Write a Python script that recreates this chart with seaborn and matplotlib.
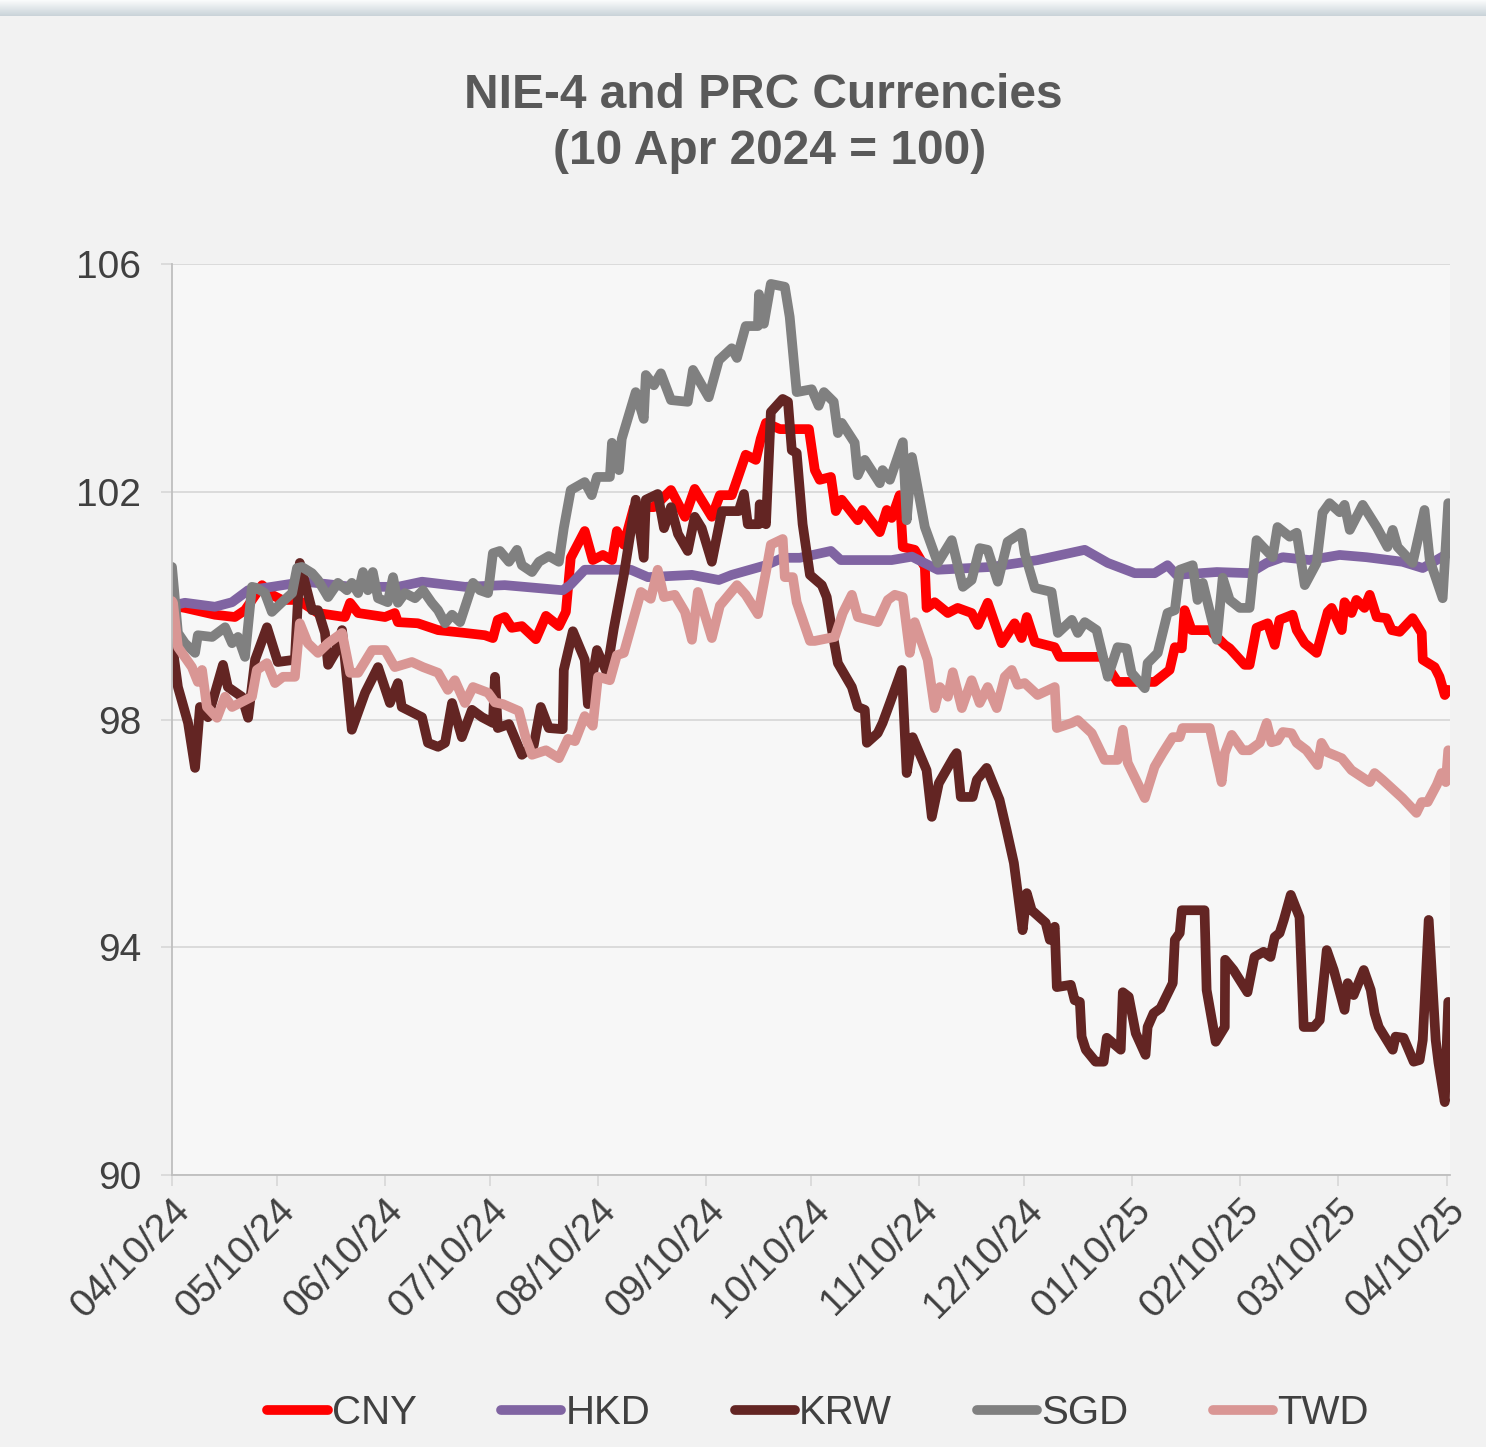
import matplotlib
matplotlib.use("Agg")
import matplotlib.dates as mdates
import matplotlib.pyplot as plt
import numpy as np
import pandas as pd
import seaborn as sns
from matplotlib.lines import Line2D

# Index values (10 Apr 2024 = 100); x given as days after 10 Apr 2024
cny_days = [0, 3.7, 12.3, 18.0, 20.9, 25.8, 28.6, 31.5, 36.1, 41.8, 49.5, 51.0, 53.3, 61.0, 63.8, 64.7,
            70.4, 76.2, 83.9, 89.6, 91.9, 93.3, 95.3, 97.3, 100.2, 104.2, 107.1, 110.8, 112.8, 114.2,
            118.2, 120.5, 123.4, 126.0, 127.4, 129.4, 132.3, 138.0, 142.9, 146.9, 149.7, 154.6, 156.9,
            160.3, 164.3, 167.2, 168.6, 170.1, 174.1, 182.4, 184.1, 185.5, 188.7, 190.1, 191.8, 196.4,
            197.8, 202.7, 204.7, 206.1, 208.4, 209.3, 212.7, 215.6, 216.1, 218.4, 222.2, 225.0, 229.0,
            230.8, 233.6, 237.6, 241.3, 243.3, 244.8, 247.1, 252.8, 254.2, 266.3, 268.0, 270.8, 281.4,
            285.7, 287.2, 289.2, 290.0, 292.0, 297.2, 301.5, 302.9, 307.2, 308.6, 310.6, 313.8, 315.8,
            317.2, 320.9, 322.1, 324.4, 327.8, 331.0, 332.1, 335.0, 335.8, 337.8, 339.2, 341.5, 343.0,
            345.0, 347.8, 349.3, 351.6, 355.3, 357.9, 358.2, 361.6, 363.0, 364.5, 365.5]
cny_vals = [100.0, 99.96, 99.84, 99.80, 99.92, 100.36, 100.19, 100.10, 100.10, 99.87, 99.80, 100.05,
            99.87, 99.80, 99.87, 99.71, 99.69, 99.57, 99.52, 99.48, 99.43, 99.75, 99.80, 99.61, 99.64,
            99.41, 99.82, 99.64, 99.89, 100.84, 101.31, 100.80, 100.89, 100.80, 101.31, 101.07, 101.73,
            101.73, 102.03, 101.56, 102.05, 101.56, 101.94, 101.94, 102.65, 102.56, 102.93, 103.21,
            103.10, 103.10, 102.38, 102.21, 102.26, 101.66, 101.86, 101.50, 101.68, 101.29, 101.68,
            101.54, 101.94, 101.03, 100.98, 100.68, 99.96, 100.06, 99.87, 99.96, 99.87, 99.66, 100.05,
            99.34, 99.69, 99.43, 99.80, 99.36, 99.27, 99.10, 99.10, 98.92, 98.66, 98.66, 98.87, 99.27,
            99.25, 99.92, 99.57, 99.57, 99.31, 99.25, 98.96, 98.96, 99.61, 99.69, 99.31, 99.75, 99.84,
            99.57, 99.34, 99.17, 99.89, 99.96, 99.57, 100.06, 99.87, 100.10, 99.96, 100.19, 99.80,
            99.78, 99.57, 99.54, 99.78, 99.52, 99.05, 98.92, 98.75, 98.43, 98.52]

hkd_days = [0, 3.7, 12.3, 17.2, 21.8, 28.6, 38.1, 51.5, 64.7, 71.6, 83.9, 95.3, 111.9, 114.0, 118.2,
            126.5, 131.4, 136.3, 148.9, 156.6, 160.3, 170.1, 174.9, 179.8, 188.7, 191.5, 206.1, 211.9,
            219.3, 234.8, 247.9, 261.4, 268.0, 275.7, 281.4, 285.1, 287.7, 299.2, 308.6, 313.5, 318.1,
            325.8, 334.4, 342.1, 352.4, 358.2, 365.5]
hkd_vals = [100.0, 100.05, 99.98, 100.06, 100.27, 100.33, 100.42, 100.33, 100.33, 100.42, 100.33,
            100.36, 100.27, 100.36, 100.63, 100.63, 100.63, 100.50, 100.54, 100.45, 100.54, 100.71,
            100.84, 100.84, 100.96, 100.80, 100.80, 100.86, 100.63, 100.68, 100.80, 100.98, 100.75,
            100.57, 100.57, 100.71, 100.54, 100.59, 100.57, 100.75, 100.85, 100.80, 100.89, 100.85,
            100.77, 100.66, 100.92]

krw_days = [0, 1.7, 4.6, 6.6, 8.0, 10.3, 14.6, 16.0, 20.0, 21.8, 23.8, 27.2, 30.3, 35.2, 36.6, 38.1,
            40.1, 41.8, 43.8, 44.7, 46.7, 48.7, 51.5, 55.3, 59.0, 62.4, 64.7, 65.8, 71.6, 73.3, 76.2,
            78.2, 80.2, 83.0, 85.9, 88.8, 91.9, 92.5, 93.3, 96.5, 100.2, 103.6, 105.6, 107.9, 111.9,
            112.2, 114.8, 118.2, 119.1, 121.7, 124.5, 126.5, 129.4, 132.8, 135.1, 135.7, 139.1, 140.9,
            142.9, 144.9, 147.7, 149.7, 151.7, 154.6, 157.5, 162.3, 163.8, 164.9, 168.1, 168.3, 170.1,
            171.5, 174.9, 176.4, 177.5, 178.9, 180.6, 182.7, 186.1, 187.5, 189.0, 190.7, 194.7, 196.4,
            198.4, 199.0, 202.1, 203.5, 205.6, 209.0, 210.4, 212.1, 216.1, 217.6, 219.6, 223.9, 224.7,
            225.9, 229.3, 230.5, 233.3, 237.0, 239.0, 241.1, 243.6, 244.8, 246.2, 250.2, 251.4, 252.8,
            253.4, 257.4, 258.5, 260.0, 260.5, 261.7, 264.5, 266.8, 267.7, 271.7, 272.3, 274.0, 276.0,
            278.8, 279.4, 281.1, 283.1, 286.6, 287.2, 288.6, 289.2, 295.7, 296.3, 298.9, 301.5, 301.6,
            304.0, 308.0, 310.0, 312.6, 314.6, 315.8, 317.2, 318.4, 320.4, 322.9, 324.1, 327.0, 328.7,
            330.7, 332.7, 335.8, 336.7, 338.4, 341.3, 343.3, 344.4, 345.6, 349.6, 350.4, 352.7, 355.6,
            357.3, 358.2, 359.9, 361.9, 362.7, 364.5, 365.5]
krw_vals = [99.35, 98.57, 97.94, 97.15, 98.22, 98.04, 98.96, 98.57, 98.40, 98.03, 99.05, 99.62, 99.01,
            99.05, 100.75, 100.40, 99.92, 99.92, 99.52, 98.96, 99.17, 99.57, 97.82, 98.47, 98.92, 98.29,
            98.64, 98.22, 98.04, 97.59, 97.52, 97.59, 98.29, 97.69, 98.17, 98.04, 97.94, 98.75, 97.85,
            97.92, 97.38, 97.55, 98.22, 97.85, 97.83, 98.87, 99.55, 99.05, 98.27, 99.22, 98.83, 99.59,
            100.54, 101.86, 100.84, 101.86, 101.96, 101.36, 101.73, 101.26, 100.96, 101.56, 101.36,
            100.77, 101.66, 101.66, 101.96, 101.43, 101.43, 101.78, 101.43, 103.40, 103.63, 103.58,
            102.73, 102.68, 101.43, 100.54, 100.36, 100.15, 99.57, 98.99, 98.57, 98.22, 98.17, 97.59,
            97.76, 97.94, 98.29, 98.87, 97.06, 97.69, 97.11, 96.29, 96.88, 97.34, 97.41, 96.64, 96.64,
            96.94, 97.15, 96.59, 96.06, 95.48, 94.30, 94.95, 94.65, 94.43, 94.13, 94.36, 93.30, 93.34,
            93.07, 93.04, 92.43, 92.20, 91.99, 91.99, 92.41, 92.20, 93.21, 93.13, 92.49, 92.11, 92.60,
            92.84, 92.93, 93.37, 94.13, 94.25, 94.65, 94.65, 93.25, 92.34, 92.60, 93.78, 93.60, 93.21,
            93.83, 93.92, 93.83, 94.18, 94.25, 94.48, 94.92, 94.53, 92.60, 92.60, 92.72, 93.95, 93.60,
            92.90, 93.37, 93.16, 93.60, 93.25, 92.84, 92.60, 92.20, 92.43, 92.41, 91.99, 92.02, 92.37,
            94.48, 92.37, 91.97, 91.28, 93.04]

sgd_days = [0, 1.7, 3.7, 6.6, 7.4, 11.5, 15.2, 17.2, 18.9, 20.9, 22.9, 24.3, 26.6, 28.6, 31.5, 34.4,
            35.8, 37.2, 40.1, 41.8, 44.7, 47.5, 50.1, 51.5, 53.3, 54.7, 56.1, 57.5, 59.0, 61.8, 63.3,
            64.7, 66.7, 69.6, 71.9, 74.4, 76.2, 78.2, 80.2, 82.5, 86.2, 88.2, 90.5, 91.9, 93.9, 96.5,
            98.8, 100.2, 103.1, 105.1, 107.9, 110.8, 112.2, 114.2, 118.2, 120.2, 121.7, 125.4, 126.0,
            128.0, 128.8, 132.8, 135.1, 135.7, 138.0, 140.0, 142.9, 147.7, 149.2, 153.7, 156.6, 160.3,
            161.8, 164.3, 167.8, 168.1, 169.5, 171.5, 175.5, 176.9, 178.9, 183.2, 185.2, 186.7, 189.5,
            190.7, 191.8, 195.5, 196.4, 198.4, 202.7, 203.5, 205.6, 209.3, 210.4, 211.9, 215.6, 219.3,
            223.3, 226.5, 229.0, 231.3, 233.6, 236.5, 239.3, 243.3, 244.2, 247.1, 251.9, 253.7, 257.7,
            259.4, 261.4, 264.8, 268.0, 270.8, 273.4, 274.8, 278.6, 279.4, 282.3, 285.1, 287.2, 288.6,
            292.3, 293.7, 295.2, 299.2, 300.9, 302.9, 305.8, 308.6, 310.6, 315.2, 316.6, 320.1, 322.1,
            324.4, 327.8, 329.5, 331.5, 334.4, 335.8, 337.3, 341.0, 345.0, 348.1, 349.6, 351.0, 355.3,
            358.7, 360.2, 363.9, 365.5]
sgd_vals = [100.68, 99.52, 99.34, 99.17, 99.48, 99.45, 99.62, 99.34, 99.45, 99.10, 100.33, 100.31,
            100.22, 99.89, 100.06, 100.22, 100.66, 100.68, 100.57, 100.45, 100.15, 100.40, 100.27,
            100.40, 100.22, 100.59, 100.27, 100.59, 100.13, 100.06, 100.50, 100.05, 100.22, 100.13,
            100.27, 100.05, 99.92, 99.69, 99.84, 99.71, 100.40, 100.27, 100.22, 100.92, 100.96, 100.77,
            100.98, 100.71, 100.59, 100.77, 100.87, 100.77, 101.36, 102.03, 102.17, 101.94, 102.26,
            102.26, 102.86, 102.38, 102.93, 103.75, 103.28, 104.05, 103.87, 104.08, 103.61, 103.58,
            104.14, 103.66, 104.31, 104.52, 104.35, 104.91, 104.91, 105.47, 104.95, 105.65, 105.60,
            105.07, 103.75, 103.80, 103.51, 103.75, 103.58, 103.03, 103.21, 102.86, 102.29, 102.56,
            102.15, 102.38, 102.21, 102.87, 101.50, 102.61, 101.38, 100.75, 101.15, 100.33, 100.45,
            101.01, 100.98, 100.42, 101.12, 101.28, 100.92, 100.31, 100.24, 99.52, 99.75, 99.52, 99.71,
            99.57, 98.75, 99.27, 99.25, 98.82, 98.55, 98.99, 99.17, 99.87, 99.92, 100.63, 100.71,
            100.10, 100.40, 99.40, 100.49, 100.10, 99.96, 99.96, 101.15, 100.85, 101.38, 101.21,
            101.28, 100.36, 100.75, 101.63, 101.80, 101.64, 101.77, 101.33, 101.77, 101.38, 101.03,
            101.33, 101.03, 100.75, 101.68, 100.80, 100.13, 101.80]

twd_days = [0, 0.3, 1.7, 5.7, 7.4, 8.6, 10.0, 12.9, 15.2, 17.2, 22.9, 24.3, 27.2, 29.5, 31.8, 35.2,
            36.6, 38.9, 41.8, 44.7, 48.7, 51.0, 53.3, 57.3, 61.0, 63.8, 68.7, 71.9, 76.2, 79.0, 81.0,
            83.9, 86.2, 90.5, 92.5, 94.8, 99.3, 101.3, 103.1, 107.1, 110.8, 113.4, 115.4, 118.2, 120.5,
            122.0, 125.4, 127.4, 129.4, 134.3, 137.1, 139.1, 140.9, 144.0, 146.9, 148.9, 150.6, 154.6,
            156.9, 161.8, 164.3, 167.8, 170.1, 171.5, 174.9, 175.5, 177.8, 178.9, 182.7, 184.1, 189.8,
            192.1, 194.7, 196.4, 202.1, 205.0, 207.0, 209.3, 211.3, 212.7, 216.4, 218.4, 219.9, 222.2,
            223.6, 226.2, 229.0, 231.3, 233.6, 236.2, 238.5, 240.5, 242.2, 244.2, 247.9, 252.8, 253.4,
            257.7, 259.4, 263.4, 267.1, 270.8, 272.3, 273.7, 278.6, 281.4, 283.7, 286.6, 288.6, 289.4,
            297.2, 299.2, 300.6, 301.5, 303.5, 306.6, 308.6, 311.5, 313.5, 314.9, 316.6, 318.1, 320.6,
            322.1, 324.9, 328.1, 329.2, 330.7, 335.0, 337.8, 343.0, 344.4, 346.7, 352.4, 356.4, 357.9,
            359.6, 362.2, 363.6, 364.8, 365.5]
twd_vals = [100.08, 100.05, 99.27, 98.92, 98.66, 98.87, 98.22, 98.03, 98.40, 98.22, 98.40, 98.87,
            98.99, 98.64, 98.75, 98.75, 99.69, 99.34, 99.17, 99.34, 99.52, 98.82, 98.82, 99.22, 99.22,
            98.92, 99.01, 98.92, 98.82, 98.52, 98.69, 98.29, 98.57, 98.47, 98.30, 98.27, 98.15, 97.68,
            97.38, 97.46, 97.32, 97.66, 97.62, 98.06, 97.89, 98.75, 98.69, 99.13, 99.17, 100.24,
            100.12, 100.63, 100.15, 100.19, 99.89, 99.40, 100.24, 99.43, 100.00, 100.36, 100.19, 99.85,
            100.59, 101.07, 101.17, 100.50, 100.50, 100.06, 99.38, 99.38, 99.45, 99.87, 100.19, 99.80,
            99.71, 100.10, 100.19, 100.15, 99.17, 99.71, 99.05, 98.20, 98.57, 98.40, 98.83, 98.20,
            98.69, 98.29, 98.57, 98.20, 98.75, 98.87, 98.61, 98.64, 98.43, 98.57, 97.85, 97.94, 97.99,
            97.76, 97.29, 97.29, 97.82, 97.24, 96.62, 97.17, 97.41, 97.69, 97.69, 97.85, 97.85, 97.29,
            96.90, 97.41, 97.73, 97.46, 97.46, 97.59, 97.94, 97.60, 97.63, 97.78, 97.76, 97.59, 97.46,
            97.20, 97.59, 97.43, 97.32, 97.11, 96.90, 97.06, 96.94, 96.62, 96.36, 96.55, 96.55, 96.85,
            97.06, 96.90, 97.46]

currencies = ["CNY", "HKD", "KRW", "SGD", "TWD"]
colors = ["#ff0000", "#8064a2", "#632523", "#808080", "#d99694"]
y_ticks = [90, 94, 98, 102, 106]

base = pd.Timestamp("2024-04-10")
series = {
    "CNY": (cny_days, cny_vals),
    "HKD": (hkd_days, hkd_vals),
    "KRW": (krw_days, krw_vals),
    "SGD": (sgd_days, sgd_vals),
    "TWD": (twd_days, twd_vals),
}
frames = []
for ccy, (days, vals) in series.items():
    frames.append(pd.DataFrame({
        "date": base + pd.to_timedelta(np.array(days), unit="D"),
        "value": vals,
        "ccy": ccy,
    }))
df = pd.concat(frames, ignore_index=True)

sns.set_theme(style="white")
plt.rcParams["font.family"] = ["Liberation Sans", "DejaVu Sans"]

W, H = 1486, 1447
fig = plt.figure(figsize=(W / 100, H / 100), dpi=100, facecolor="#f2f2f2")

# thin band across the top (page chrome)
band = fig.add_axes([0, 1 - 16 / H, 1, 16 / H])
grad = np.linspace(0, 1, 50).reshape(-1, 1)
band.imshow(grad, aspect="auto", cmap=matplotlib.colors.LinearSegmentedColormap.from_list(
    "band", ["#fbfcfc", "#c9d3d9"]), extent=[0, 1, 0, 1])
band.axis("off")

ax = fig.add_axes([172 / W, 1 - 1175 / H, (1450 - 172) / W, (1175 - 264) / H])
ax.set_facecolor("#f7f7f7")

sns.lineplot(data=df, x="date", y="value", hue="ccy", palette=dict(zip(currencies, colors)),
             estimator=None, sort=False, linewidth=7, legend=False, ax=ax,
             solid_capstyle="round", solid_joinstyle="round")

ax.set_ylim(90, 106)
ax.set_yticks(y_ticks)
ax.set_xlim(base, base + pd.Timedelta(days=366))
month_ticks = pd.date_range(base, periods=13, freq=pd.DateOffset(months=1))
ax.set_xticks(month_ticks)
ax.xaxis.set_major_formatter(mdates.DateFormatter("%m/%d/%y"))
ax.set_xlabel("")
ax.set_ylabel("")

ax.yaxis.grid(True, color="#d9d9d9", linewidth=1.3)
ax.xaxis.grid(False)
ax.set_axisbelow(True)
for side in ["top", "right"]:
    ax.spines[side].set_visible(False)
for side in ["left", "bottom"]:
    ax.spines[side].set_color("#bfbfbf")
    ax.spines[side].set_linewidth(1.3)

ax.tick_params(axis="y", which="major", left=True, length=8, width=1.3, color="#d9d9d9",
               labelsize=28, labelcolor="#404040", pad=14)
ax.tick_params(axis="x", which="major", bottom=True, length=8, width=1.3, color="#d9d9d9",
               labelsize=28, labelcolor="#404040", pad=4)
for lbl in ax.get_xticklabels():
    lbl.set_rotation(45)
    lbl.set_ha("right")
    lbl.set_rotation_mode("anchor")

fig.text(763 / W, 1 - 96 / H, "NIE-4 and PRC Currencies", ha="center", va="center",
         fontsize=34.5, fontweight="bold", color="#595959")
fig.text(770 / W, 1 - 152 / H, "(10 Apr 2024 = 100)", ha="center", va="center",
         fontsize=34.5, fontweight="bold", color="#595959")

handles = [Line2D([0], [0], color=c, linewidth=7, solid_capstyle="round") for c in colors]
leg = fig.legend(handles, currencies, loc="center", bbox_to_anchor=(818 / W, 1 - 1413 / H),
                 ncol=5, frameon=False, fontsize=29, handlelength=1.5, handletextpad=0.1,
                 columnspacing=2.1, labelcolor="#404040")

fig.savefig("out.png", dpi=100, facecolor=fig.get_facecolor())
